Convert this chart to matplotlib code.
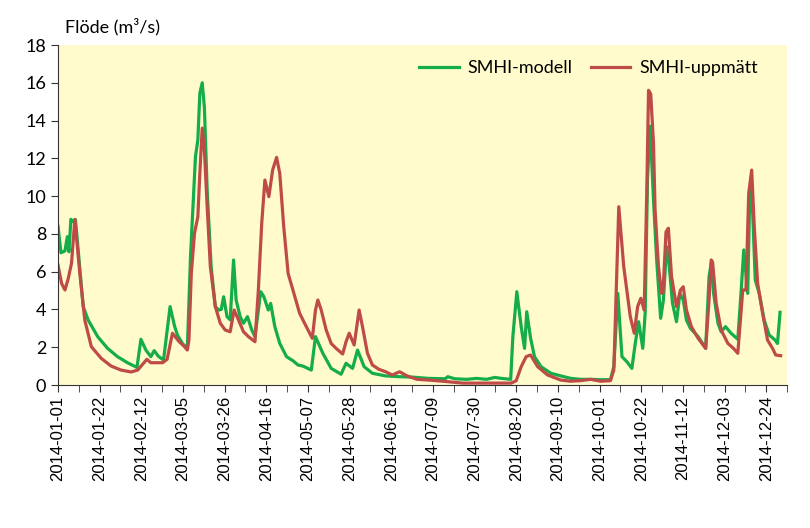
import numpy as np
import pandas as pd
import matplotlib
matplotlib.use("Agg")
import matplotlib.pyplot as plt

# day of year (0 = 2014-01-01) and flow in m3/s
modell_dag = [0, 1.5, 3.5, 4.7, 5.5, 6.5, 7.7, 8.8, 12.7, 15.2, 20, 25, 30, 35, 39.8, 41.8, 44.3, 46.8,
              48.5, 50.5, 53.2, 56.5, 58.8, 60.2, 62.7, 65.2, 66.8, 69.3, 70.5, 71.5, 72.7, 73.8, 75.2,
              77.2, 79.3, 81, 82.3, 83.5, 85.2, 86.8, 88.5, 89.8, 91.8, 93.5, 95.5, 97.7, 99.3, 102.2,
              103.8, 106, 107.2, 109.3, 111.8, 115.2, 118.5, 121, 123.5, 127.7, 129.8, 133.5, 137.7,
              142.7, 145.2, 148.5, 151, 154.3, 158.5, 165.2, 172, 178.5, 186.8, 195.2, 196.5, 200, 206,
              211, 216, 220.2, 223.5, 228.2, 229.3, 231.3, 233.5, 235.2, 236.3, 238.2, 240.2, 243.5,
              248.5, 253.5, 258.5, 263.5, 268.5, 273.5, 278.5, 280.2, 282.2, 284.3, 286.8, 289.3, 291,
              292.7, 294.8, 296, 297.2, 298.5, 300.2, 301.8, 303.8, 305.2, 306.8, 308, 309.8, 311.8,
              313.5, 315.2, 316.8, 318.8, 322.7, 326.5, 328.2, 329.3, 330.5, 332.7, 334.3, 336.5, 339.3,
              342.7, 344.3, 345.7, 346.8, 347.7, 348.8, 350.2, 351.5, 353.5, 356, 358.5, 361.5, 362.7, 364]
modell = [8.4, 7.0, 7.1, 7.85, 7.05, 8.77, 8.65, 8.75, 4.15, 3.44, 2.56, 1.94, 1.5, 1.18, 0.93, 2.42, 1.85, 1.5,
          1.82, 1.53, 1.32, 4.15, 3.1, 2.65, 2.2, 1.94, 6.8, 12.1, 12.97, 15.44, 16.0, 14.7, 10.3,
          6.26, 4.15, 3.97, 4.0, 4.67, 3.62, 3.45, 6.62, 4.5, 3.62, 3.27, 3.62, 2.91, 2.56, 4.94,
          4.67, 3.97, 4.32, 3.09, 2.2, 1.5, 1.28, 1.06, 1.0, 0.79, 2.56, 1.68, 0.88,
          0.57, 1.15, 0.88, 1.85, 0.97, 0.62, 0.48, 0.44, 0.42, 0.35, 0.33, 0.44, 0.33, 0.3,
          0.35, 0.3, 0.4, 0.35, 0.3, 2.56, 4.94, 3.09, 1.94, 3.88, 2.5, 1.5, 0.97,
          0.62, 0.48, 0.35, 0.3, 0.3, 0.28, 0.28, 0.97, 4.85, 1.5, 1.23, 0.88, 2.2,
          3.35, 1.94, 3.8, 11.0, 13.7, 9.8, 6.62, 3.53, 4.5, 7.32, 6.44, 4.32, 3.35,
          4.85, 4.5, 3.44, 3.0, 2.56, 1.94, 5.73, 6.44, 4.85, 3.27, 2.82, 3.09, 2.74,
          2.42, 4.85, 7.15, 5.91, 4.85, 10.5, 9.1, 5.56, 4.85, 3.44, 2.65, 2.38, 2.2, 3.85]

uppmatt_dag = [0, 1.8, 3.5, 5.2, 6.8, 8.5, 11, 13.5, 16.8, 21.8, 26.8, 31.8, 36.8, 40.2, 44.8, 46.8, 52.7, 55,
               57.7, 61, 63.5, 65.2, 66, 67.2, 68.8, 70.5, 71.5, 72.7, 73.8, 75.2, 76.8, 79.3, 81.8, 84.3,
               86.8, 88.8, 91, 93.5, 96, 99.3, 101, 102.7, 104.3, 106.3, 108.2, 110.2, 111.8, 113.8, 116,
               118.5, 121.8, 124.3, 126.5, 128.2, 129.8, 131, 132.7, 135.2, 137.7, 140.2, 143.5, 145.2,
               146.8, 149.3, 151.8, 153.5, 156, 158.5, 161.8, 165.2, 168.5, 172.2, 176, 181, 187, 195,
               204, 212, 220, 228.5, 231, 233.5, 236, 238.2, 241.8, 246.8, 253.5, 258.5, 263.5, 268.5,
               273.5, 278.5, 280.2, 282.7, 285.2, 288.5, 290.5, 292.2, 293.8, 295.5, 296.8, 297.7, 298.8,
               300.2, 301, 302.7, 304.3, 305, 306.5, 307.7, 309.3, 311.8, 313.8, 315.2, 316.8, 319.3,
               322.7, 326.5, 328.2, 329.3, 330, 331.8, 334.3, 337.7, 340.5, 342.7, 345.2, 346.8, 348.2,
               349.7, 351, 352.7, 355.2, 357.7, 360.2, 361.8, 364.3]
uppmatt = [6.35, 5.38, 5.03, 5.65, 6.44, 8.77, 5.91, 3.44, 2.03, 1.41, 1.0, 0.79, 0.69, 0.79, 1.36, 1.18, 1.18, 1.36,
           2.74, 2.3, 2.06, 1.85, 2.38, 5.91, 8.03, 8.91, 11.2, 13.6, 12.44, 9.44, 6.26, 4.15, 3.27, 2.91,
           2.82, 3.97, 3.44, 2.82, 2.56, 2.29, 5.03, 8.56, 10.85, 9.97, 11.38, 12.05, 11.2, 8.38, 5.91,
           5.0, 3.8, 3.27, 2.82, 2.47, 3.97, 4.5, 3.97, 2.91, 2.2, 1.94, 1.64, 2.29,
           2.74, 2.12, 3.97, 3.09, 1.68, 1.06, 0.83, 0.7, 0.53, 0.7, 0.48, 0.3, 0.26, 0.19,
           0.1, 0.1, 0.1, 0.1, 0.23, 0.97, 1.5, 1.59, 0.97, 0.53, 0.26, 0.2, 0.23, 0.3,
           0.2, 0.23, 0.79, 9.44, 6.26, 3.62, 2.74, 4.15, 4.59, 3.97, 10.15, 15.6, 15.4,
           12.8, 9.26, 6.26, 4.85, 4.9, 8.1, 8.3, 5.73, 4.15, 5.03, 5.2, 3.97, 3.09,
           2.47, 1.94, 4.5, 6.62, 6.5, 4.32, 2.91, 2.2, 1.94, 1.68, 5.03, 5.03, 10.15,
           11.38, 8.38, 5.38, 3.8, 2.38, 1.94, 1.59, 1.55]

tick_dagar = np.arange(0, 358, 21)
tick_text = (pd.Timestamp("2014-01-01") + pd.to_timedelta(tick_dagar, unit="D")).strftime("%Y-%m-%d")

plt.rcParams["font.family"] = ["Lato", "DejaVu Sans"]

fig = plt.figure(figsize=(8.1, 5.28), dpi=100)
ax = fig.add_axes([58 / 810, 1 - 385 / 528, 729 / 810, 340 / 528])
ax.set_facecolor("#FFFBCC")

ax.plot(modell_dag, modell, color="#14AD4A", lw=2.3, label="SMHI-modell")
ax.plot(uppmatt_dag, uppmatt, color="#BE4B48", lw=2.3, label="SMHI-uppmätt")

ax.set_xlim(0, 364.5)
ax.set_ylim(0, 18)
ax.set_yticks(np.arange(0, 19, 2))
ax.set_xticks(tick_dagar)
ax.set_xticklabels(tick_text, rotation=90, fontsize=12, family="Liberation Sans")
ax.set_xticks(tick_dagar + 10.5, minor=True)
ax.tick_params(axis="y", labelsize=13, direction="out", length=5, color="#333333")
ax.tick_params(axis="x", which="both", direction="out", length=5, color="#333333", pad=3)

for s in ["top", "right"]:
    ax.spines[s].set_visible(False)
for s in ["left", "bottom"]:
    ax.spines[s].set_color("#333333")

fig.text(65 / 810, 1 - 27 / 528, "Flöde (m³/s)", fontsize=13, va="center", ha="left")

ax.legend(loc="center right", bbox_to_anchor=(758 / 810, 1 - 68 / 528), bbox_transform=fig.transFigure,
          ncol=2, frameon=False, fontsize=13, handlelength=2.2, columnspacing=1.0,
          borderaxespad=0, borderpad=0, handletextpad=0.5)

fig.savefig("out.png", dpi=100)
